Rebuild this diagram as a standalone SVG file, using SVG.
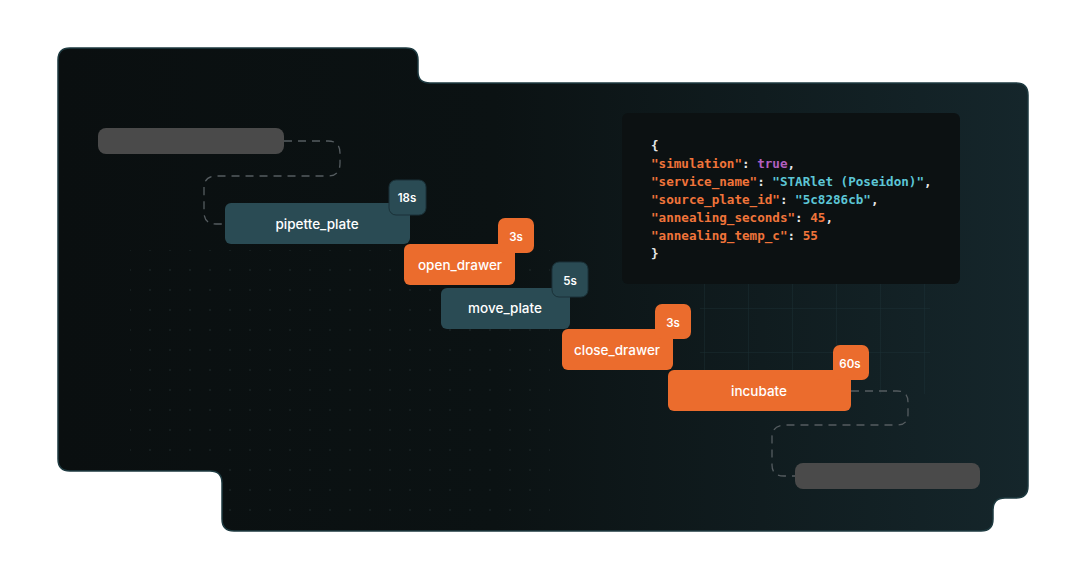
<svg xmlns="http://www.w3.org/2000/svg" width="1072" height="580" viewBox="0 0 1072 580">
<style>
.lbl{font-family:Inter,"Liberation Sans",sans-serif;font-size:13.5px;font-weight:500;fill:#fff;text-anchor:middle}
.bdg{font-family:Inter,"Liberation Sans",sans-serif;font-size:11.5px;font-weight:600;fill:#fff;text-anchor:middle}
.code{font-family:"DejaVu Sans Mono","Liberation Mono",monospace;font-size:12.6px;font-weight:bold}
.k{fill:#f0743a}.p{fill:#e6e6e6}.b{fill:#b15fc0}.s{fill:#5cc6d6}
.teal{fill:#2a4b54}.orng{fill:#eb6c2d}
.dash{fill:none;stroke:#555c60;stroke-width:1.3;stroke-dasharray:8 6}
</style>
<defs>
<linearGradient id="bg" x1="0" y1="0" x2="1" y2="0">
<stop offset="0" stop-color="#0a0f10"/><stop offset="0.45" stop-color="#0b1213"/><stop offset="1" stop-color="#15262b"/>
</linearGradient>
<pattern id="dots" width="20" height="20" patternUnits="userSpaceOnUse"><circle cx="10" cy="10" r="1" fill="#1c2628"/></pattern>
<pattern id="grid" width="44" height="44" patternUnits="userSpaceOnUse"><path d="M0 0H44M0 0V44" stroke="#213a40" stroke-width="1" fill="none"/></pattern>
</defs>
<path d="M70 48H406Q418 48 418 60V72Q418 83 430 83H1016Q1028 83 1028 95V486Q1028 498 1016 498H1005Q993 498 993 510V519Q993 531 981 531H234Q222 531 222 519V483Q222 471 210 471H70Q58 471 58 459V60Q58 48 70 48Z" fill="url(#bg)" stroke="#1e3a40" stroke-width="1.5"/>
<rect x="130" y="250" width="420" height="215" fill="url(#dots)" opacity="0.8"/>
<rect x="226" y="465" width="324" height="60" fill="url(#dots)" opacity="0.8"/>
<rect x="700" y="284" width="230" height="110" fill="url(#grid)" opacity="0.6"/>
<rect x="98" y="128" width="186" height="26" rx="8" fill="#4a4a4a"/>
<rect x="795" y="463" width="185" height="26" rx="8" fill="#4a4a4a"/>
<g id="connectors">
<path class="dash" d="M284 141H328Q340 141 340 153V163Q340 176 328 176H216Q204 176 204 188V212Q204 224 216 224H225"/>
<path class="dash" d="M851 391H897Q908 391 908 402V414Q908 425 897 425H786Q772 425 772 437V465Q772 476 784 476H795"/>
</g>
<g id="code">
<rect x="622" y="113" width="338" height="171" rx="6" fill="#0c1112"/>
<text class="code" x="651" y="150"><tspan class="p">{</tspan></text>
<text class="code" x="651" y="168"><tspan class="k">"simulation"</tspan><tspan class="p">: </tspan><tspan class="b">true</tspan><tspan class="p">,</tspan></text>
<text class="code" x="651" y="186"><tspan class="k">"service_name"</tspan><tspan class="p">: </tspan><tspan class="s">"STARlet (Poseidon)"</tspan><tspan class="p">,</tspan></text>
<text class="code" x="651" y="204"><tspan class="k">"source_plate_id"</tspan><tspan class="p">: </tspan><tspan class="s">"5c8286cb"</tspan><tspan class="p">,</tspan></text>
<text class="code" x="651" y="222"><tspan class="k">"annealing_seconds"</tspan><tspan class="p">: </tspan><tspan class="k">45</tspan><tspan class="p">,</tspan></text>
<text class="code" x="651" y="240"><tspan class="k">"annealing_temp_c"</tspan><tspan class="p">: </tspan><tspan class="k">55</tspan></text>
<text class="code" x="651" y="258"><tspan class="p">}</tspan></text>
</g>
<g id="pipette_plate">
<rect class="teal" x="225" y="203" width="185" height="41" rx="6"/>
<text class="lbl" x="317" y="229">pipette_plate</text>
<rect class="teal" x="389" y="180" width="37" height="35" rx="7" stroke="#1a3138"/>
<text class="bdg" x="407" y="202">18s</text>
</g>
<g id="open_drawer">
<rect class="orng" x="404" y="244" width="111" height="41" rx="6"/>
<text class="lbl" x="460" y="270">open_drawer</text>
<rect class="orng" x="498" y="218" width="36" height="35" rx="7"/>
<text class="bdg" x="516" y="241">3s</text>
</g>
<g id="move_plate">
<rect class="teal" x="441" y="288" width="129" height="41" rx="6"/>
<text class="lbl" x="505" y="313">move_plate</text>
<rect class="teal" x="552" y="262" width="36" height="35" rx="7" stroke="#1a3138"/>
<text class="bdg" x="570" y="285">5s</text>
</g>
<g id="close_drawer">
<rect class="orng" x="562" y="329" width="111" height="41" rx="6"/>
<text class="lbl" x="617" y="355">close_drawer</text>
<rect class="orng" x="655" y="304" width="36" height="35" rx="7"/>
<text class="bdg" x="673" y="327">3s</text>
</g>
<g id="incubate">
<rect class="orng" x="668" y="370" width="183" height="41" rx="6"/>
<text class="lbl" x="759" y="396">incubate</text>
<rect class="orng" x="833" y="345" width="36" height="35" rx="7"/>
<text class="bdg" x="850" y="368">60s</text>
</g>
</svg>
